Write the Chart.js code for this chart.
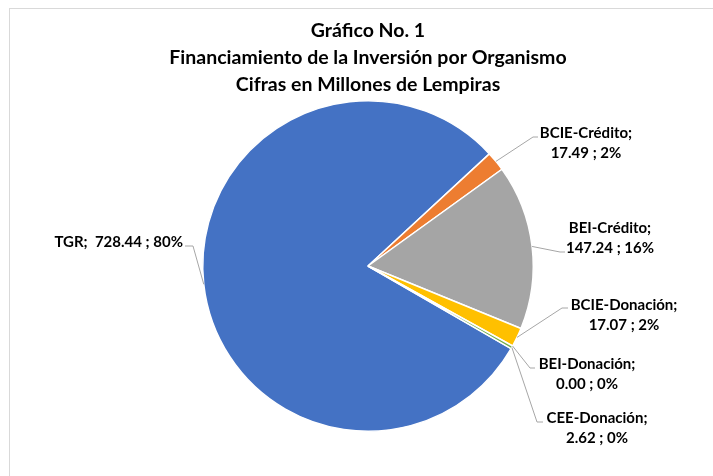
<!DOCTYPE html>
<html>
<head>
<meta charset="utf-8">
<script src="https://cdn.jsdelivr.net/npm/chart.js@4.4.1/dist/chart.umd.min.js"></script>
<style>
  html, body { margin:0; padding:0; background:#fff; overflow:hidden; }
  #wrap { position:relative; width:713px; height:476px; }
  #frame { position:absolute; left:9px; top:8px; width:760px; height:520px; border:1px solid #d9d9d9; box-sizing:border-box; }
  #c { position:absolute; left:0; top:0; }
</style>
</head>
<body>
<div id="wrap">
  <div id="frame"></div>
  <canvas id="c" width="713" height="476"></canvas>
</div>
<script>
/* Financiamiento por organismo (millones de lempiras) */
const categorias = ['TGR', 'BCIE-Crédito', 'BEI-Crédito', 'BCIE-Donación', 'BEI-Donación', 'CEE-Donación'];
const valores = [728.44, 17.49, 147.24, 17.07, 0.00, 2.62];
const colores = ['#4472C4', '#ED7D31', '#A5A5A5', '#FFC000', '#5B9BD5', '#70AD47'];
const titulo = ['Gráfico No. 1', 'Financiamiento de la Inversión por Organismo', 'Cifras en Millones de Lempiras'];

// posición de cada etiqueta: centro del texto, codo y fin de la línea guía
const etiquetas = [
  { x:183, y:242, align:'right', codo:[193,246], fin:[185,246], unaLinea:true },
  { x:586, y:133, codo:[533,137], fin:[538,137] },
  { x:610, y:228, codo:[560,252], fin:[565,252] },
  { x:624, y:305, codo:[562,308], fin:[568,308] },
  { x:587, y:364, codo:[530,368], fin:[535,368] },
  { x:597, y:418, codo:[537,422], fin:[543,422] }
];

const total = valores.reduce((a, b) => a + b, 0);
const FUENTE = 'Lato, "Open Sans", sans-serif';

// dibuja etiquetas con líneas guía al estilo Excel
const etiquetasPlugin = {
  id: 'etiquetas',
  afterDatasetsDraw(chart) {
    const ctx = chart.ctx;
    const arcs = chart.getDatasetMeta(0).data;
    ctx.save();
    arcs.forEach((arc, i) => {
      const e = etiquetas[i];
      const m = (arc.startAngle + arc.endAngle) / 2;
      const r = arc.outerRadius;
      const px = arc.x + Math.cos(m) * r, py = arc.y + Math.sin(m) * r;
      ctx.strokeStyle = '#A6A6A6';
      ctx.lineWidth = 1;
      ctx.beginPath();
      ctx.moveTo(px, py);
      ctx.lineTo(e.codo[0], e.codo[1]);
      ctx.lineTo(e.fin[0], e.fin[1]);
      ctx.stroke();

      const pct = Math.round(valores[i] / total * 100);
      const linea2 = valores[i].toFixed(2) + ' ; ' + pct + '%';
      ctx.fillStyle = '#000';
      ctx.font = 'bold 15px ' + FUENTE;
      ctx.textBaseline = 'middle';
      if (e.unaLinea) {
        ctx.textAlign = e.align;
        ctx.fillText(categorias[i] + ';  ' + linea2, e.x, e.y);
      } else {
        ctx.textAlign = 'center';
        ctx.fillText(categorias[i] + ';', e.x, e.y);
        ctx.fillText(linea2, e.x, e.y + 20);
      }
    });
    ctx.restore();
  }
};

new Chart(document.getElementById('c').getContext('2d'), {
  type: 'pie',
  data: {
    labels: categorias,
    datasets: [{ data: valores, backgroundColor: colores, borderColor: '#fff', borderWidth: 1.5 }]
  },
  options: {
    responsive: false,
    animation: false,
    rotation: 120,
    layout: { padding: { left:123, right:100, top:0, bottom:44 } },
    plugins: {
      legend: { display: false },
      tooltip: { enabled: false },
      title: {
        display: true,
        text: titulo,
        color: '#000',
        font: { family: FUENTE, size: 19.5, weight: 'bold', lineHeight: '27px' },
        padding: { top: 17, bottom: 2 }
      }
    }
  },
  plugins: [etiquetasPlugin]
});
</script>
</body>
</html>
